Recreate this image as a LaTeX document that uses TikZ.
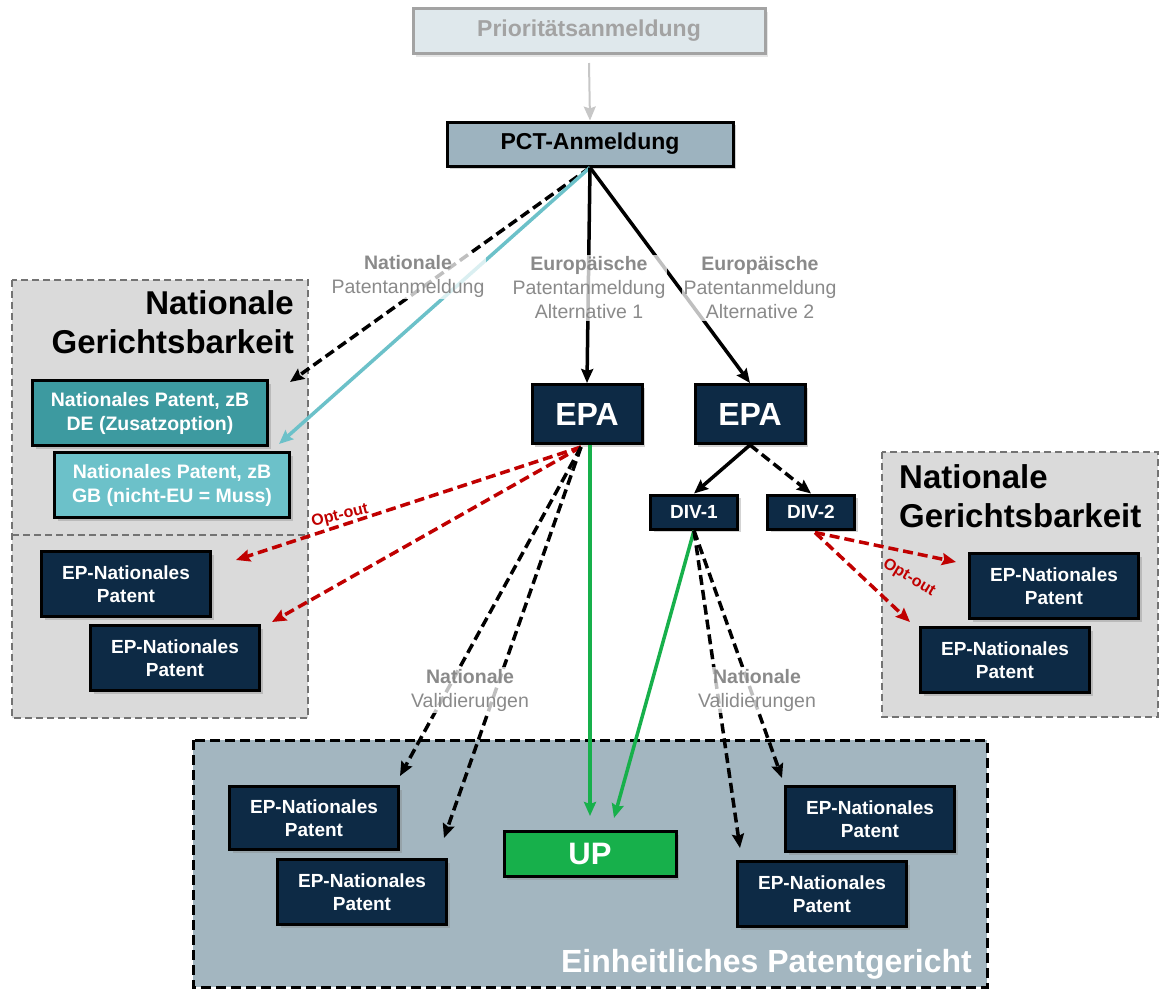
\documentclass[tikz,border=0pt]{standalone}
\usepackage{fontspec}
\setmainfont{Liberation Sans}
\usetikzlibrary{arrows.meta,shadows,positioning}

\definecolor{navy}{HTML}{0D2A45}
\definecolor{tealA}{HTML}{3D9AA0}
\definecolor{tealB}{HTML}{6CC1C9}
\definecolor{pctfill}{HTML}{9DB3BF}
\definecolor{priofill}{HTML}{DFE8EC}
\definecolor{priogray}{HTML}{A3A3A3}
\definecolor{zonegray}{HTML}{DADADA}
\definecolor{upcfill}{HTML}{A3B6C0}
\definecolor{upgreen}{HTML}{17B04B}
\definecolor{optred}{HTML}{C00000}
\definecolor{lblgray}{HTML}{8A8A8A}

\newcommand{\fs}[2]{\fontsize{#1}{#2}\selectfont}

\tikzset{
  box/.style={draw=black, line width=3pt, fill=navy, text=white, align=center,
    inner sep=0pt, font=\fs{19}{23}\bfseries,
    drop shadow={shadow xshift=3pt, shadow yshift=-3pt, opacity=0.35}},
  epbox/.style={box, minimum width=169pt, minimum height=65pt},
  natbox/.style={box, minimum width=235pt, minimum height=65pt, font=\fs{19.5}{24}\bfseries},
  epabox/.style={box, minimum width=110pt, minimum height=59pt, font=\fs{32}{36}\bfseries},
  divbox/.style={box, minimum width=87pt, minimum height=34pt},
  zone/.style={fill=zonegray, draw=black!55, line width=1.5pt, dash pattern=on 7pt off 4pt},
  zonetitle/.style={font=\fs{33}{39}\bfseries, inner sep=0pt},
  lbl/.style={text=lblgray, align=center, font=\fs{19.5}{24},
    fill=white, fill opacity=0.75, text opacity=1, inner sep=2pt},
  arr/.style={line width=3.5pt, -{Stealth[length=14pt,width=12pt,inset=2pt]}},
  dsh/.style={arr, dash pattern=on 10pt off 5pt},
  optlbl/.style={text=optred, font=\fs{16}{19}\bfseries, inner sep=0pt}
}

\begin{document}
\begin{tikzpicture}[x=1pt,y=-1pt]
\useasboundingbox (0,0) rectangle (1163,989);

% zones
\draw[zone] (12,280) rectangle (308,718);
\draw[zone] (12,535) -- (308,535);
\draw[zone] (882,452) rectangle (1158,717);
\draw[fill=upcfill, draw=black, line width=3pt, dash pattern=on 10pt off 5pt] (193,740) rectangle (987,987);

\node[zonetitle, align=right, anchor=north east] (titL) at (294,290) {Nationale\\Gerichtsbarkeit};
\node[zonetitle, align=left, anchor=north west] (titR) at (899,464) {Nationale\\Gerichtsbarkeit};
\node[font=\fs{32}{38}\bfseries, text=white, anchor=base east, inner sep=0pt] (titB) at (972,972) {Einheitliches Patentgericht};

% boxes
\node[draw=priogray, line width=3pt, fill=priofill, text=priogray, font=\fs{23}{27}\bfseries,
  minimum width=352pt, minimum height=45pt, inner sep=0pt,
  drop shadow={shadow xshift=3pt, shadow yshift=-3pt, opacity=0.2}] (prio) at (589,31) {Prioritätsanmeldung};
\node[box, fill=pctfill, text=black, font=\fs{23}{27}\bfseries, minimum width=286pt, minimum height=44pt] (pct) at (590,144) {PCT-Anmeldung};

\node[natbox, fill=tealA] (natDE) at (150,413) {Nationales Patent, zB\\DE (Zusatzoption)};
\node[natbox, fill=tealB] (natGB) at (172,485) {Nationales Patent, zB\\GB (nicht-EU = Muss)};
\node[epbox] (epL1) at (126,584) {EP-Nationales\\Patent};
\node[epbox] (epL2) at (175,658) {EP-Nationales\\Patent};

\node[epabox] (epaA) at (587,414) {EPA};
\node[epabox] (epaB) at (750,414) {EPA};
\node[divbox] (divA) at (694,512) {DIV-1};
\node[divbox] (divB) at (811,512) {DIV-2};

\node[epbox] (epR1) at (1054,586) {EP-Nationales\\Patent};
\node[epbox] (epR2) at (1005,660) {EP-Nationales\\Patent};

\node[epbox, minimum height=63pt] (epB1) at (314,818) {EP-Nationales\\Patent};
\node[epbox] (epB2) at (362,892) {EP-Nationales\\Patent};
\node[box, fill=upgreen, font=\fs{31}{36}\bfseries, minimum width=172pt, minimum height=45pt] (up) at (590,854) {UP};
\node[epbox] (epB3) at (870,819) {EP-Nationales\\Patent};
\node[epbox] (epB4) at (822,894) {EP-Nationales\\Patent};

% free ends
\coordinate (natA) at (290,382);
\coordinate (natB) at (279,444);
\coordinate (optL1) at (236,560);
\coordinate (optL2) at (272,622);
\coordinate (valL1) at (400,776);
\coordinate (valL2) at (444,838);
\coordinate (upA) at (590,816);
\coordinate (upB) at (614,818);
\coordinate (valR1) at (740,848);
\coordinate (valR2) at (782,778);
\coordinate (optR1) at (956,562);
\coordinate (optR2) at (910,622);

% connectors
\draw[arr, line width=2pt, draw=black!22] (prio.south) ++(0,8) -- (pct.north);
\draw[dsh] (pct.south) -- (natA);
\draw[arr, draw=tealB] (pct.south) -- (natB);
\draw[arr] (pct.south) -- (epaA.north);
\draw[arr] (pct.south) -- (epaB.north);

\draw[dsh, draw=optred] (epaA.south) ++(-6,2) -- (optL1);
\draw[dsh, draw=optred] (epaA.south) ++(-6,2) -- (optL2);
\draw[dsh] (epaA.south) ++(-6,2) -- (valL1);
\draw[dsh] (epaA.south) ++(-6,2) -- (valL2);
\draw[arr, draw=upgreen] (epaA.south) ++(3,0) -- (upA);

\draw[arr] (epaB.south) -- (divA.north);
\draw[dsh] (epaB.south) -- (divB.north);
\draw[arr, draw=upgreen] (divA.south) -- (upB);
\draw[dsh] (divA.south) -- (valR1);
\draw[dsh] (divA.south) -- (valR2);
\draw[dsh, draw=optred] (divB.south) ++(4,2) -- (optR1);
\draw[dsh, draw=optred] (divB.south) ++(4,2) -- (optR2);

% labels
\node[lbl] (lblNat) at (408,276) {\textbf{Nationale}\\Patentanmeldung};
\node[lbl] (lblEuA) at (589,288) {\textbf{Europäische}\\Patentanmeldung\\Alternative 1};
\node[lbl] (lblEuB) at (760,288) {\textbf{Europäische}\\Patentanmeldung\\Alternative 2};
\node[lbl] (lblValA) at (470,690) {\textbf{Nationale}\\Validierungen};
\node[lbl] (lblValB) at (757,690) {\textbf{Nationale}\\Validierungen};
\node[optlbl, rotate=14] (optA) at (340,516) {Opt-out};
\node[optlbl, rotate=-31] (optB) at (909,578) {Opt-out};
\end{tikzpicture}
\end{document}
